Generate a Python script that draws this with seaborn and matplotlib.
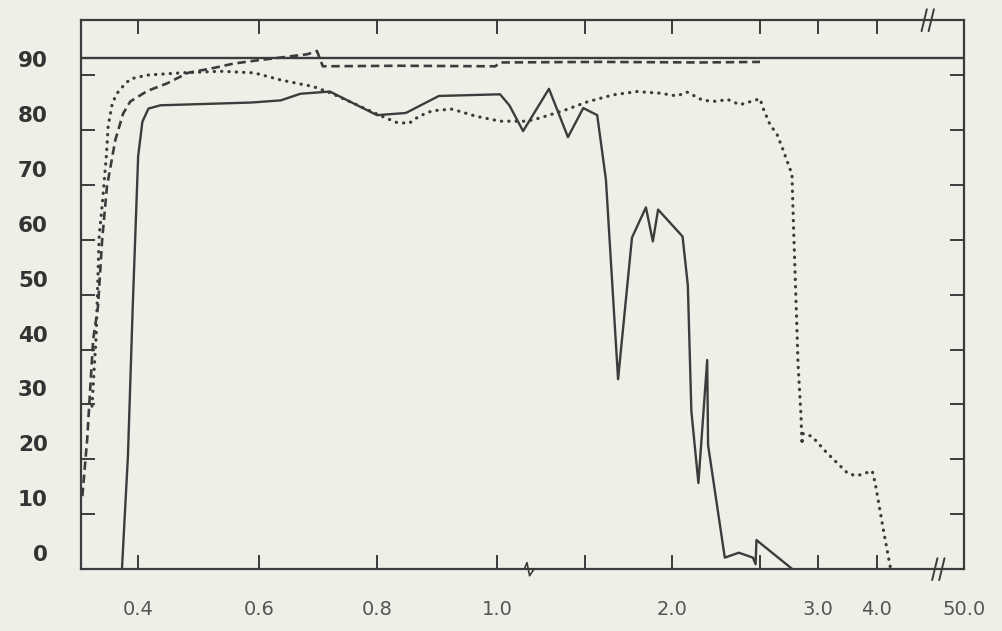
import numpy as np
import pandas as pd
import matplotlib
matplotlib.use('Agg')
import matplotlib.pyplot as plt
import matplotlib.transforms as mtransforms
import seaborn as sns

# wavelength (um) vs transmission (%)
solid_wl = [0.373, 0.383, 0.391, 0.400, 0.407, 0.417, 0.437, 0.587, 0.637, 0.67, 0.72,
            0.80, 0.848, 0.903, 1.017, 1.07, 1.148, 1.295, 1.403, 1.49, 1.57, 1.62,
            1.69, 1.77, 1.85, 1.89, 1.92, 2.06, 2.09, 2.11, 2.15, 2.20, 2.205, 2.30,
            2.38, 2.46, 2.475, 2.48, 2.78]
solid_t = [0, 20.7, 47.9, 75.2, 81.5, 83.9, 84.5, 85.0, 85.4, 86.6, 87.0,
           82.7, 83.1, 86.2, 86.5, 84.5, 79.8, 87.5, 78.7, 84.0, 82.7, 71.0,
           34.6, 60.4, 65.9, 59.7, 65.5, 60.6, 51.7, 28.8, 15.7, 38.1, 22.6, 2.1,
           3.0, 2.1, 0.9, 5.3, 0]

dashed_wl = [0.307, 0.315, 0.325, 0.333, 0.340, 0.348, 0.362, 0.375, 0.387, 0.415,
             0.448, 0.482, 0.525, 0.558, 0.598, 0.682, 0.698, 0.708, 0.837, 0.997,
             1.017, 1.58, 2.16, 2.5]
dashed_t = [13.3, 23.6, 41.8, 47.8, 60.0, 69.7, 78.2, 83.0, 85.2, 87.1,
            88.5, 90.4, 91.3, 92.1, 92.7, 93.8, 94.4, 91.6, 91.7, 91.6,
            92.3, 92.4, 92.3, 92.4]

dotted_wl = [0.323, 0.330, 0.335, 0.340, 0.347, 0.350, 0.357, 0.365, 0.375, 0.387,
             0.415, 0.470, 0.537, 0.592, 0.637, 0.692, 0.72, 0.753, 0.808, 0.832,
             0.853, 0.870, 0.892, 0.925, 0.965, 1.017, 1.17, 1.244, 1.375, 1.511,
             1.661, 1.799, 1.931, 2.028, 2.085, 2.176, 2.256, 2.313, 2.386, 2.46,
             2.50, 2.526, 2.586, 2.647, 2.69, 2.776, 2.784, 2.80, 2.819, 2.828,
             2.853, 2.862, 2.871, 2.948, 3.15, 3.51, 3.66, 3.92, 3.97, 4.10, 4.22]
dotted_t = [29.7, 42.5, 60.7, 66.2, 75.3, 80.7, 84.9, 86.7, 88.0, 89.3,
            90.0, 90.4, 90.7, 90.4, 89.1, 87.9, 86.8, 85.2, 82.5, 81.4,
            81.2, 82.5, 83.5, 83.8, 82.5, 81.6, 81.6, 82.2, 83.5, 85.1,
            86.4, 87.0, 86.7, 86.2, 86.9, 85.4, 85.2, 85.6, 84.6, 85.3,
            85.7, 84.0, 81.0, 79.2, 76.9, 71.9, 65.9, 55.6, 43.6, 37.4,
            28.3, 22.7, 24.7, 24.2, 21.2, 17.4, 17.0, 17.9, 15.7, 7.5, 0.3]

ref_level = 93.1  # flat solid reference line near the top

xtick_vals = [0.4, 0.6, 0.8, 1.0, 2.0, 3.0, 4.0, 50.0]
xtick_text = ['0.4', '0.6', '0.8', '1.0', '2.0', '3.0', '4.0', '50.0']
xminor_vals = [1.5, 2.5]
ytick_vals = [0, 10, 20, 30, 40, 50, 60, 70, 80, 90]

# broken, piecewise x axis of the original (wavelength -> relative position)
scale_wl = [0.305, 0.4, 0.6, 0.8, 1.0, 1.5, 2.0, 2.5, 3.0, 4.0, 5.0, 50.0]
scale_pos = [81, 138, 259, 377, 497, 585, 672, 760, 818, 877, 938, 964]


def fwd(x):
    return np.interp(x, scale_wl, scale_pos)


def inv(p):
    return np.interp(p, scale_pos, scale_wl)


bg = '#efefe8'
ink = '#3a3d3b'

sns.set_style('ticks')
plt.rcParams['font.family'] = ['DejaVu Sans']

fig = plt.figure(figsize=(10.02, 6.31), dpi=100, facecolor=bg)
ax = fig.add_axes([0.081, 0.098, 0.881, 0.870])
ax.set_facecolor(bg)

ax.set_xscale('function', functions=(fwd, inv))
ax.set_xlim(0.305, 50.0)
ax.set_ylim(0, 100)

solid = pd.DataFrame({'wl': solid_wl, 't': solid_t})
dashed = pd.DataFrame({'wl': dashed_wl, 't': dashed_t})
dotted = pd.DataFrame({'wl': dotted_wl, 't': dotted_t})

sns.lineplot(data=solid, x='wl', y='t', ax=ax, sort=False, estimator=None,
             color=ink, lw=1.7)
sns.lineplot(data=dashed, x='wl', y='t', ax=ax, sort=False, estimator=None,
             color=ink, lw=1.9, linestyle=(0, (3.2, 1.8)))
sns.lineplot(data=dotted, x='wl', y='t', ax=ax, sort=False, estimator=None,
             color=ink, lw=2.3, linestyle=(0, (0.1, 2.2)), dash_capstyle='round')
ax.axhline(ref_level, color=ink, lw=1.7)

for s in ax.spines.values():
    s.set_visible(True)
    s.set_color(ink)
    s.set_linewidth(1.6)

ax.set_xticks(xtick_vals)
ax.set_xticklabels(xtick_text)
ax.set_xticks(xminor_vals, minor=True)
ax.set_yticks(ytick_vals)
ax.set_yticklabels([str(v) for v in ytick_vals])

ax.tick_params(axis='both', which='both', direction='in', top=True, right=True,
               length=10, width=1.4, color=ink)
ax.tick_params(axis='x', labelsize=14, labelcolor='#555555', pad=22)
ax.tick_params(axis='y', labelsize=15.5, labelcolor='#333333', pad=24)
for lab in ax.get_yticklabels():
    lab.set_fontweight('bold')
    lab.set_transform(lab.get_transform() +
                      mtransforms.ScaledTranslation(0, 0.16, fig.dpi_scale_trans))
ax.set_xlabel('')
ax.set_ylabel('')

# axis break marks
for cx, cy in [(0.959, 1.0), (0.971, 0.0)]:
    for off in (-0.004, 0.004):
        ax.plot([cx + off - 0.003, cx + off + 0.003], [cy - 0.02, cy + 0.02],
                transform=ax.transAxes, color=ink, lw=1.4, clip_on=False)
cx = 0.505
ax.plot([cx - 0.008, cx - 0.003, cx, cx + 0.003, cx + 0.008],
        [0.0, 0.0, 0.012, -0.012, 0.0],
        transform=ax.transAxes, color=ink, lw=1.2, clip_on=False)

fig.savefig('out.png', dpi=100, facecolor=bg)
